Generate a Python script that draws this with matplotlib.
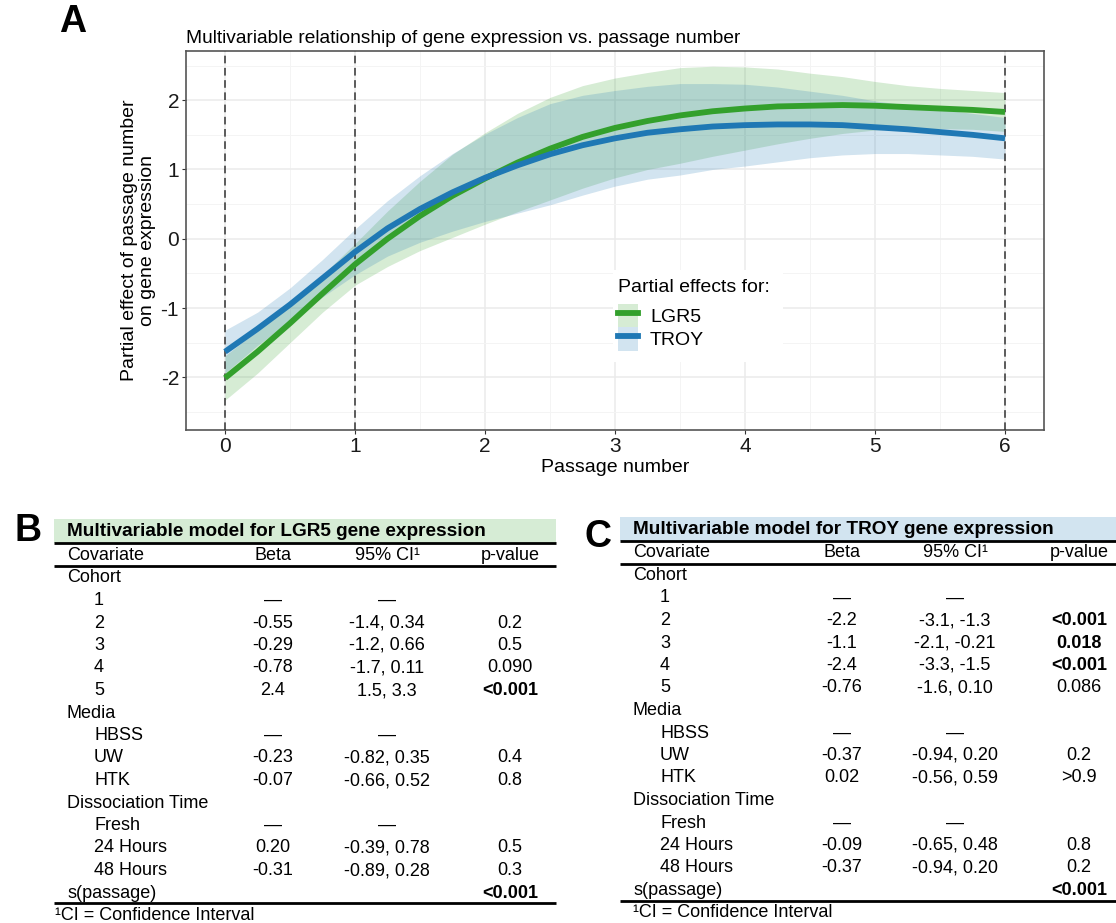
import matplotlib.pyplot as plt
from matplotlib.patches import Patch, Rectangle
from matplotlib.lines import Line2D

plt.rcParams['font.family'] = ['Liberation Sans', 'DejaVu Sans']
plt.rcParams['axes.unicode_minus'] = False

# partial effect of passage number (GAM smooth) with 95% band
passage = [0, 0.25, 0.5, 0.75, 1, 1.25, 1.5, 1.75, 2, 2.25, 2.5, 2.75, 3,
           3.25, 3.5, 3.75, 4, 4.25, 4.5, 4.75, 5, 5.25, 5.5, 5.75, 6]
lgr5_fit = [-2.01, -1.63, -1.22, -0.79, -0.37, 0.00, 0.33, 0.62, 0.87, 1.10, 1.30, 1.47, 1.60,
            1.70, 1.78, 1.84, 1.88, 1.91, 1.92, 1.93, 1.92, 1.90, 1.88, 1.86, 1.83]
lgr5_lo = [-2.33, -1.94, -1.50, -1.06, -0.67, -0.40, -0.17, 0.02, 0.21, 0.39, 0.56, 0.73, 0.88,
           1.00, 1.09, 1.19, 1.28, 1.37, 1.45, 1.52, 1.57, 1.59, 1.59, 1.58, 1.55]
lgr5_hi = [-1.69, -1.32, -0.94, -0.52, -0.07, 0.40, 0.83, 1.22, 1.53, 1.81, 2.04, 2.21, 2.32,
           2.40, 2.47, 2.49, 2.48, 2.45, 2.39, 2.34, 2.27, 2.21, 2.17, 2.14, 2.11]
troy_fit = [-1.63, -1.30, -0.95, -0.57, -0.19, 0.15, 0.43, 0.67, 0.88, 1.06, 1.22, 1.35, 1.45,
            1.53, 1.58, 1.62, 1.64, 1.65, 1.65, 1.64, 1.61, 1.58, 1.54, 1.50, 1.45]
troy_lo = [-1.94, -1.54, -1.19, -0.84, -0.52, -0.25, -0.05, 0.11, 0.25, 0.37, 0.49, 0.63, 0.76,
           0.86, 0.92, 1.00, 1.05, 1.11, 1.17, 1.21, 1.23, 1.23, 1.21, 1.19, 1.15]
troy_hi = [-1.32, -1.06, -0.71, -0.30, 0.14, 0.55, 0.91, 1.23, 1.51, 1.75, 1.95, 2.07, 2.14,
           2.20, 2.24, 2.24, 2.23, 2.19, 2.13, 2.07, 1.99, 1.93, 1.87, 1.81, 1.75]
knots = [0, 1, 6]

# model tables
covariates = ['Cohort', '1', '2', '3', '4', '5', 'Media', 'HBSS', 'UW', 'HTK',
              'Dissociation Time', 'Fresh', '24 Hours', '48 Hours', 's(passage)']
is_group = [True, False, False, False, False, False, True, False, False, False,
            True, False, False, False, True]

lgr5_beta = ['', '—', '-0.55', '-0.29', '-0.78', '2.4', '', '—', '-0.23', '-0.07',
             '', '—', '0.20', '-0.31', '']
lgr5_ci = ['', '—', '-1.4, 0.34', '-1.2, 0.66', '-1.7, 0.11', '1.5, 3.3', '', '—',
           '-0.82, 0.35', '-0.66, 0.52', '', '—', '-0.39, 0.78', '-0.89, 0.28', '']
lgr5_p = ['', '', '0.2', '0.5', '0.090', '<0.001', '', '', '0.4', '0.8',
          '', '', '0.5', '0.3', '<0.001']

troy_beta = ['', '—', '-2.2', '-1.1', '-2.4', '-0.76', '', '—', '-0.37', '0.02',
             '', '—', '-0.09', '-0.37', '']
troy_ci = ['', '—', '-3.1, -1.3', '-2.1, -0.21', '-3.3, -1.5', '-1.6, 0.10', '', '—',
           '-0.94, 0.20', '-0.56, 0.59', '', '—', '-0.65, 0.48', '-0.94, 0.20', '']
troy_p = ['', '', '<0.001', '0.018', '<0.001', '0.086', '', '', '0.2', '>0.9',
          '', '', '0.8', '0.2', '<0.001']

green = '#33a02c'
blue = '#1f78b4'
W, H = 1116, 923

fig = plt.figure(figsize=(W / 100, H / 100), dpi=100)

# ---- panel A: partial effects ----
ax = fig.add_axes([186 / W, 1 - 430 / H, 858 / W, 379 / H])
ax.fill_between(passage, lgr5_lo, lgr5_hi, color=green, alpha=0.2, lw=0, zorder=2)
ax.fill_between(passage, troy_lo, troy_hi, color=blue, alpha=0.2, lw=0, zorder=2)
for k in knots:
    ax.axvline(k, color='#333333', ls=(0, (5, 3)), lw=1.1, zorder=3)
ax.plot(passage, lgr5_fit, color=green, lw=4.2, zorder=4, solid_capstyle='butt')
ax.plot(passage, troy_fit, color=blue, lw=4.2, zorder=4, solid_capstyle='butt')

ax.set_xticks(range(7))
ax.set_yticks([-2, -1, 0, 1, 2])
ax.set_xticks([x + 0.5 for x in range(-1, 7)], minor=True)
ax.set_yticks([-2.5, -1.5, -0.5, 0.5, 1.5, 2.5], minor=True)
ax.set_xlim(-0.3, 6.3)
ax.set_ylim(-2.76, 2.71)
ax.grid(which='major', color='#ebebeb', lw=1.1)
ax.grid(which='minor', color='#f4f4f4', lw=0.7)
ax.set_axisbelow(True)
ax.tick_params(which='major', length=3, width=0.8, color='#333333', labelsize=15,
               labelcolor='#1a1a1a', pad=2)
ax.tick_params(which='minor', length=0)
for s in ax.spines.values():
    s.set_color('#555555')
    s.set_linewidth(1.2)

ax.set_title('Multivariable relationship of gene expression vs. passage number',
             loc='left', fontsize=13.8, pad=6)
ax.set_xlabel('Passage number', fontsize=14, labelpad=2)
ax.set_ylabel('Partial effect of passage number\non gene expression', fontsize=14,
              labelpad=3, linespacing=1.12)

# white legend background over the grid
ax.add_patch(Rectangle(((613 - 186) / 858, (430 - 362) / 379), 170 / 858, 92 / 379,
                       transform=ax.transAxes, facecolor='white', lw=0, zorder=1))
handles = [(Patch(facecolor=green, alpha=0.2, lw=0), Line2D([], [], color=green, lw=4.2)),
           (Patch(facecolor=blue, alpha=0.2, lw=0), Line2D([], [], color=blue, lw=4.2))]
leg = ax.legend(handles, ['LGR5', 'TROY'], title='Partial effects for:',
                loc='upper left', bbox_to_anchor=((618 - 186) / 858, (430 - 279) / 379),
                borderaxespad=0, borderpad=0, frameon=False, fontsize=14,
                title_fontsize=14, handlelength=1.05, handleheight=1.45,
                handletextpad=0.6, labelspacing=0.0, alignment='left')
leg._legend_box.sep = 6
leg.set_zorder(6)

fig.text(73 / W, 1 - 22 / H, 'A', fontsize=27, weight='bold', ha='center', va='center')

# ---- panels B and C: model tables ----
tab = fig.add_axes([0, 0, 1, 1])
tab.set_xlim(0, W)
tab.set_ylim(H, 0)
tab.axis('off')


def is_signif(p):
    if not p or p.startswith('>'):
        return False
    if p.startswith('<'):
        return True
    return float(p) < 0.05


def draw_table(x0, x1, dy, title, bar_color, beta, ci, pvals, cols, foot_x):
    xl, x_ind, x_beta, x_ci, x_p = cols
    tab.add_patch(Rectangle((x0, 519 + dy), x1 - x0, 24, facecolor=bar_color, lw=0))
    tab.text(xl, 532 + dy, title, fontsize=13.7, weight='bold', va='center')
    tab.plot([x0, x1], [543 + dy, 543 + dy], color='black', lw=2.0, solid_capstyle='butt')
    tab.text(xl, 555 + dy, 'Covariate', fontsize=13, va='center')
    tab.text(x_beta, 555 + dy, 'Beta', fontsize=13, va='center', ha='center')
    tab.text(x_ci, 555 + dy, '95% CI¹', fontsize=13, va='center', ha='center')
    tab.text(x_p, 555 + dy, 'p-value', fontsize=13, va='center', ha='center')
    tab.plot([x0, x1], [566 + dy, 566 + dy], color='black', lw=2.0, solid_capstyle='butt')
    for i, name in enumerate(covariates):
        y = 578 + dy + i * 22.5
        tab.text(xl if is_group[i] else x_ind, y, name, fontsize=13, va='center')
        tab.text(x_beta, y, beta[i], fontsize=13, va='center', ha='center')
        tab.text(x_ci, y, ci[i], fontsize=13, va='center', ha='center')
        tab.text(x_p, y, pvals[i], fontsize=13, va='center', ha='center',
                 weight='bold' if is_signif(pvals[i]) else 'normal')
    tab.plot([x0, x1], [903 + dy, 903 + dy], color='black', lw=2.0, solid_capstyle='butt')
    tab.text(foot_x, 915 + dy, '¹CI = Confidence Interval', fontsize=13, va='center')


draw_table(54, 556, 0, 'Multivariable model for LGR5 gene expression', '#d6ecd5',
           lgr5_beta, lgr5_ci, lgr5_p, (67, 94, 273, 387, 510), 55)
draw_table(620, 1116, -2.5, 'Multivariable model for TROY gene expression', '#d2e4f0',
           troy_beta, troy_ci, troy_p, (633, 660, 842, 955, 1079), 633)

fig.text(28 / W, 1 - 531 / H, 'B', fontsize=27, weight='bold', ha='center', va='center')
fig.text(598 / W, 1 - 537 / H, 'C', fontsize=27, weight='bold', ha='center', va='center')

fig.savefig('out.png', dpi=100)
